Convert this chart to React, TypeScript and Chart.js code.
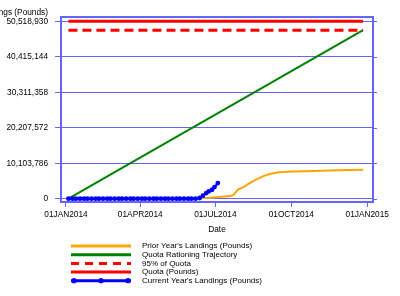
import React, { useEffect, useRef } from 'react';
import { Chart, registerables } from 'chart.js';

Chart.register(...registerables);

// ---- Data ----
const quotaValue = 50518930;
const quota95Value = 47992984;
const seasonDays = [3, 360]; // 04JAN2014 .. 27DEC2014 (day of year offset from 01JAN2014)

const yTickValues = [0, 10103786, 20207572, 30311358, 40415144, 50518930];
const xTickDays = [0, 90, 181, 273, 365];
const xTickLabels = ['01JAN2014', '01APR2014', '01JUL2014', '01OCT2014', '01JAN2015'];

const priorDays = [3, 150, 175, 199, 203, 208, 215, 221, 229, 240, 248, 258, 275, 300, 330, 360];
const priorValues = [0, 50000, 300000, 750000, 1100000, 2500000, 3300000, 4200000, 5300000, 6500000, 7100000, 7500000, 7750000, 7920000, 8100000, 8250000];

const trajectoryDays = [3, 360];
const trajectoryValues = [0, 47992984];

const currentDays = [3, 8, 12, 17, 22, 26, 31, 36, 40, 45, 50, 54, 59, 64, 68, 73, 78, 82, 87, 92, 96, 101, 106, 110, 115, 120, 124, 129, 134, 138, 143, 148, 152, 157, 162, 166, 170, 173, 177, 180, 184];
const currentValues = [0, 0, 0, 0, 0, 0, 0, 0, 0, 0, 0, 0, 0, 0, 0, 0, 0, 0, 0, 0, 0, 0, 0, 0, 0, 0, 0, 0, 0, 0, 0, 0, 0, 0, 200000, 850000, 1600000, 2100000, 2550000, 3300000, 4450000];

const legendLabels = [
  "Prior Year's Landings (Pounds)",
  'Quota Rationing Trajectory',
  '95% of Quota',
  'Quota (Pounds)',
  "Current Year's Landings (Pounds)",
];

const yTitle = 'Landings (Pounds)';
const xTitle = 'Date';

const ORANGE = '#FFA500';
const GREEN = '#008000';
const RED = '#FF0000';
const BLUE = '#0000FF';
const GRID = '#6464FF';
const FONT = 'Liberation Sans, Arial, sans-serif';

const pts = (xs: number[], ys: number[]) => xs.map((x, i) => ({ x, y: ys[i] }));
const fmt = (v: number) => String(Math.round(v)).replace(/\B(?=(\d{3})+(?!\d))/g, ',');

const decorPlugin = {
  id: 'decor',
  beforeDatasetsDraw(chart: any) {
    const { ctx, chartArea } = chart;
    ctx.save();
    ctx.strokeStyle = GRID;
    ctx.lineWidth = 2;
    ctx.strokeRect(chartArea.left, chartArea.top, chartArea.right - chartArea.left, chartArea.bottom - chartArea.top);
    // right-side tick marks
    ctx.lineWidth = 1;
    const ys = chart.scales.y;
    yTickValues.forEach((v) => {
      const py = Math.round(ys.getPixelForValue(v)) + 0.5;
      ctx.beginPath();
      ctx.moveTo(chartArea.right, py);
      ctx.lineTo(chartArea.right + 4, py);
      ctx.stroke();
    });
    ctx.restore();
  },
  afterDraw(chart: any) {
    const { ctx, chartArea } = chart;
    ctx.save();
    ctx.fillStyle = '#000';
    ctx.font = `8.3px ${FONT}`;
    ctx.textBaseline = 'middle';
    ctx.textAlign = 'right';
    ctx.fillText(yTitle, 48, 12.5);
    ctx.textAlign = 'center';
    ctx.fillText(xTitle, (chartArea.left + chartArea.right) / 2, 229.5);

    // legend
    const x0 = 71;
    const x1 = 131;
    const tx = 142;
    const rowY = [246, 254.7, 263.4, 272, 280.7];
    const styles = [
      { color: ORANGE, dash: [] as number[], dots: false },
      { color: GREEN, dash: [], dots: false },
      { color: RED, dash: [8, 6], dots: false },
      { color: RED, dash: [], dots: false },
      { color: BLUE, dash: [], dots: true },
    ];
    ctx.font = `8px ${FONT}`;
    ctx.textAlign = 'left';
    styles.forEach((s, i) => {
      const y = rowY[i];
      ctx.strokeStyle = s.color;
      ctx.lineWidth = 3;
      ctx.setLineDash(s.dash);
      ctx.beginPath();
      ctx.moveTo(x0, y);
      ctx.lineTo(x1, y);
      ctx.stroke();
      ctx.setLineDash([]);
      if (s.dots) {
        ctx.fillStyle = s.color;
        [74, 101, 128].forEach((dx) => {
          ctx.beginPath();
          ctx.arc(dx, y, 2.6, 0, Math.PI * 2);
          ctx.fill();
        });
      }
      ctx.fillStyle = '#000';
      ctx.fillText(legendLabels[i], tx, y);
    });
    ctx.restore();
  },
};

export default function App() {
  const ref = useRef<HTMLCanvasElement | null>(null);

  useEffect(() => {
    document.body.style.margin = '0';
    const canvas = ref.current;
    if (!canvas) return;
    const tickFont = { family: FONT, size: 8.3 };
    const chart = new Chart(canvas, {
      type: 'line',
      data: {
        datasets: [
          {
            label: "Current Year's Landings (Pounds)",
            data: pts(currentDays, currentValues),
            borderColor: BLUE,
            backgroundColor: BLUE,
            borderWidth: 2,
            pointRadius: 2.4,
            pointBorderWidth: 0,
            pointBackgroundColor: BLUE,
            tension: 0,
          },
          {
            label: 'Quota (Pounds)',
            data: pts(seasonDays, [quotaValue, quotaValue]),
            borderColor: RED,
            borderWidth: 3,
            pointRadius: 0,
          },
          {
            label: '95% of Quota',
            data: pts(seasonDays, [quota95Value, quota95Value]),
            borderColor: RED,
            borderWidth: 3,
            borderDash: [9, 5],
            pointRadius: 0,
          },
          {
            label: 'Quota Rationing Trajectory',
            data: pts(trajectoryDays, trajectoryValues),
            borderColor: GREEN,
            borderWidth: 2,
            pointRadius: 0,
          },
          {
            label: "Prior Year's Landings (Pounds)",
            data: pts(priorDays, priorValues),
            borderColor: ORANGE,
            borderWidth: 2,
            pointRadius: 0,
          },
        ],
      },
      options: {
        responsive: false,
        animation: false,
        layout: { padding: { top: 17, right: 27, left: 0, bottom: 0 } },
        plugins: { legend: { display: false }, tooltip: { enabled: false } },
        scales: {
          x: {
            type: 'linear',
            min: -6,
            max: 372,
            afterBuildTicks: (s: any) => {
              s.ticks = xTickDays.map((v) => ({ value: v }));
            },
            afterFit: (s: any) => {
              s.height = 94;
            },
            ticks: {
              autoSkip: false,
              maxRotation: 0,
              padding: 3,
              color: '#000',
              font: tickFont,
              callback: (_v: any, i: number) => xTickLabels[i],
            },
            grid: { drawOnChartArea: false, color: GRID, tickLength: 5 },
            border: { display: false },
          },
          y: {
            type: 'linear',
            min: -940000,
            max: 51740000,
            afterBuildTicks: (s: any) => {
              s.ticks = yTickValues.map((v) => ({ value: v }));
            },
            afterFit: (s: any) => {
              s.width = 61;
            },
            ticks: {
              padding: 7,
              color: '#000',
              font: tickFont,
              callback: (v: any) => fmt(Number(v)),
            },
            grid: { color: GRID, lineWidth: 1, tickLength: 6 },
            border: { display: false },
          },
        },
      },
      plugins: [decorPlugin],
    } as any);
    return () => chart.destroy();
  }, []);

  return <canvas ref={ref} width={400} height={296} style={{ display: 'block', width: 400, height: 296 }} />;
}
